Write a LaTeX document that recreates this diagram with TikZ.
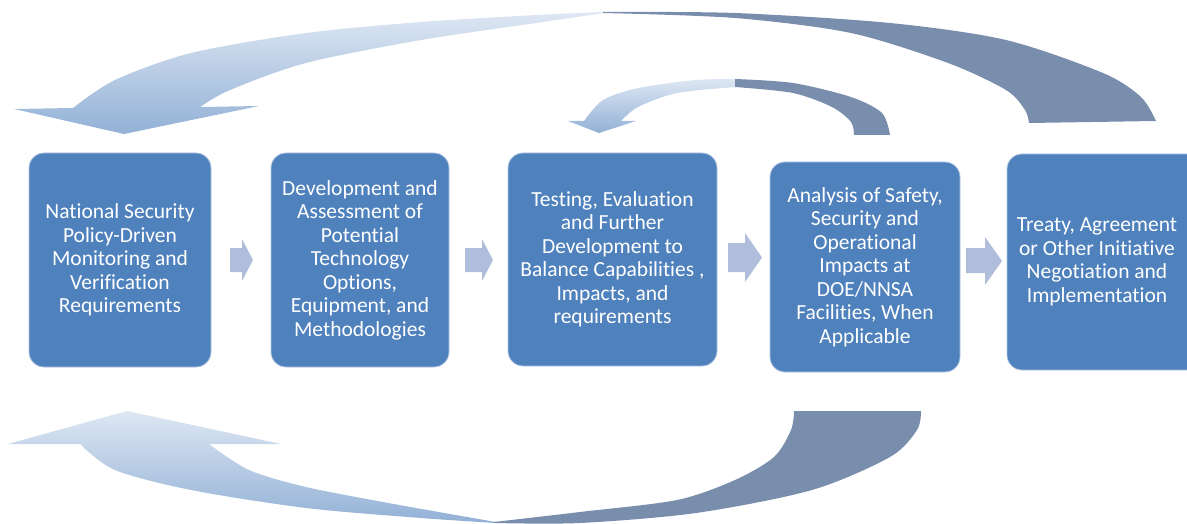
\documentclass[tikz,border=0pt]{standalone}
\usepackage{fontspec}
\setmainfont[Ligatures={NoCommon}]{Carlito}
\definecolor{boxblue}{RGB}{79,129,189}
\definecolor{chev}{RGB}{176,190,219}
\definecolor{darkband}{RGB}{121,142,173}
\definecolor{lighttop}{RGB}{222,231,243}
\definecolor{lightbot}{RGB}{146,177,214}
\begin{document}
\begin{tikzpicture}[x=1pt,y=-1pt,
  stage/.style={draw=white!55!boxblue,line width=0.8pt,fill=boxblue,rounded corners=15pt,
    text=white,align=center,font=\fontsize{21.5}{23.5}\selectfont,inner sep=0pt},
  stagetext/.style={text=white,align=center,font=\fontsize{21.5}{23.5}\selectfont,inner sep=0pt},
  chevron/.style={fill=chev},
  lightpart/.style={top color=lighttop,bottom color=lightbot},
  darkpart/.style={fill=darkband}]
\useasboundingbox (0,0) rectangle (1187,524);

% --- top big arrow: light (front) part with head
\path[lightpart] plot[smooth] coordinates {(73,108) (115,80) (191,53) (306,33) (421,22) (536,15) (604,12)}
  -- plot[smooth] coordinates {(604,13) (536,23) (421,40) (306,63) (230,90) (200,107)}
  -- (259,106) -- (124,134) -- (14,109) -- cycle;
% --- top big arrow: dark (back) part
\path[darkpart] plot[smooth] coordinates {(603,12) (735,13) (890,23) (1006,40) (1103,73) (1141,97) (1156,121)}
  -- plot[smooth] coordinates {(1029,123) (1025,110) (1006,90) (948,63) (851,33) (735,18) (603,13)} -- cycle;

% --- small top arrow
\path[lightpart] plot[smooth] coordinates {(584,121) (603,100) (638,88) (696,80) (736,79)}
  -- plot[smooth] coordinates {(736,87) (677,93) (638,107) (621,121)}
  -- (636,121) -- (599,133) -- (568,121) -- cycle;
\path[darkpart] plot[smooth] coordinates {(735,79) (793,83) (851,97) (882,113) (890,135)}
  -- plot[smooth] coordinates {(854,135) (851,122) (832,107) (793,93) (735,87)} -- cycle;

% --- bottom big arrow
\path[lightpart] (8,444) -- (127,411) -- (281,444) --
  plot[smooth] coordinates {(209,444) (249,470) (306,487) (383,502) (450,514) (496,522)}
  -- plot[smooth] coordinates {(496,523) (421,518) (306,508) (191,490) (115,470) (80,444)} -- cycle;
\path[darkpart] plot[smooth] coordinates {(494,522) (580,512) (677,500) (735,480) (774,457) (791,430) (794,411)}
  -- plot[smooth] coordinates {(921,411) (917,430) (890,457) (812,490) (696,513) (580,523) (494,523)} -- cycle;

% --- stage boxes
\node[stage,minimum width=182pt,minimum height=214pt] (b1) at (120,260)
  {National Security\\Policy-Driven\\Monitoring and\\Verification\\Requirements};
\node[stage,minimum width=178pt,minimum height=214pt] (b2) at (360,260)
  {Development and\\Assessment of\\Potential\\Technology\\Options,\\Equipment, and\\Methodologies};
\node[stage,minimum width=209pt,minimum height=213pt] (b3) at (612.5,259.5)
  {Testing, Evaluation\\and Further\\Development to\\Balance Capabilities ,\\Impacts, and\\requirements};
\node[stage,minimum width=190pt,minimum height=210pt] (b4) at (865,267)
  {Analysis of Safety,\\Security and\\Operational\\Impacts at\\DOE/NNSA\\Facilities, When\\Applicable};
\node[stage,minimum width=198pt,minimum height=216pt] (b5) at (1106,262) {};
\node[stagetext] (t5) at (1097,262)
  {Treaty, Agreement\\or Other Initiative\\Negotiation and\\Implementation};

% --- chevrons between boxes
\path[chevron] (230,248) -- (242,248) -- (242,239) -- (253,260) -- (242,281) -- (242,272) -- (230,272) -- cycle;
\path[chevron] (465,248) -- (482,248) -- (482,239) -- (493,260) -- (482,281) -- (482,272) -- (465,272) -- cycle;
\path[chevron] (728,243) -- (745,243) -- (745,233) -- (762,257.5) -- (745,282) -- (745,272) -- (728,272) -- cycle;
\path[chevron] (966,248) -- (985,248) -- (985,237) -- (1002,261) -- (985,285) -- (985,273) -- (966,273) -- cycle;
\end{tikzpicture}
\end{document}
